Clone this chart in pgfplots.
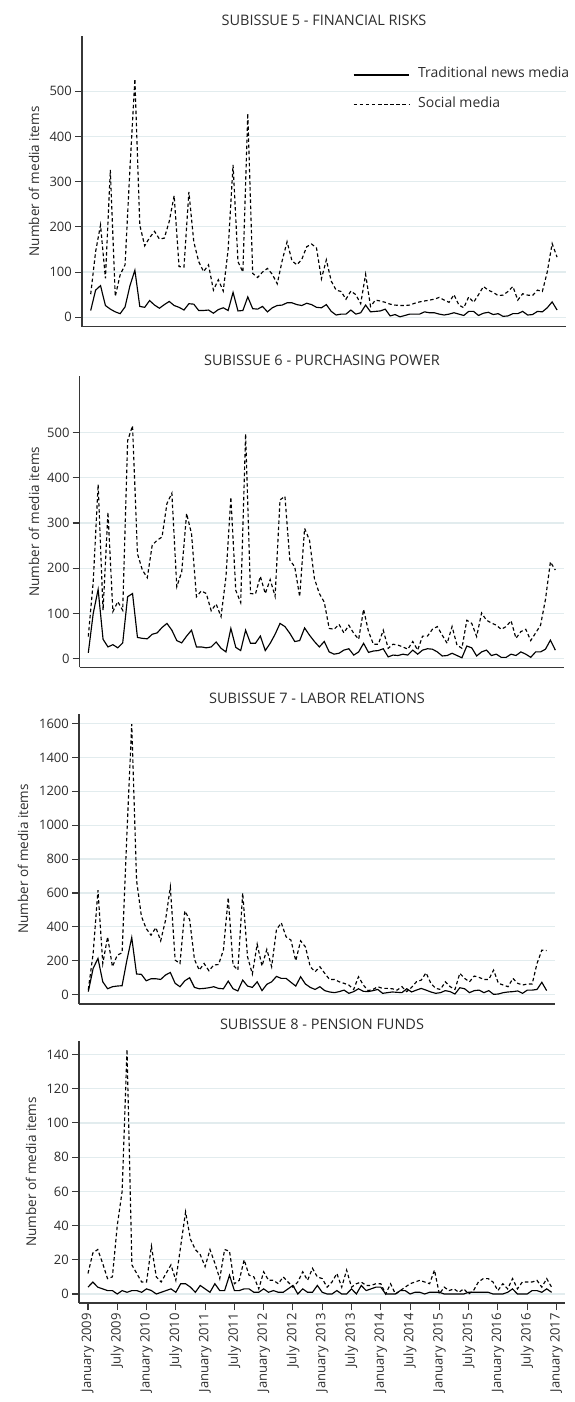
\documentclass[border=0pt]{standalone}
\usepackage{fontspec}
\setmainfont{Open Sans}
\usepackage{pgfplots}
\usepackage{pgfplotstable}
\pgfplotsset{compat=1.18}

\definecolor{gridc}{RGB}{226,236,238}
\definecolor{axc}{RGB}{55,55,55}
\definecolor{txtc}{RGB}{45,45,45}
\newcommand\tickfont{\fontsize{13}{15}\selectfont}
\newcommand\labfont{\fontsize{13.5}{16}\selectfont}
\newcommand\legfont{\fontsize{14}{16}\selectfont}
\newcommand\titfont{\fontsize{14.5}{17}\selectfont}

\pgfplotstableread{
m t s
0 15 51
1 60 145
2 70 204
3 26 86
4 18 326
5 12 46
6 8 94
7 23 116
8 70 330
9 104 527
10 24 204
11 22 158
12 37 176
13 27 190
14 20 173
15 28 175
16 35 212
17 26 269
18 22 112
19 16 111
20 30 277
21 29 167
22 15 123
23 15 101
24 16 116
25 9 60
26 17 83
27 21 58
28 15 150
29 55 337
30 14 123
31 15 100
32 45 451
33 19 97
34 18 88
35 24 100
36 12 108
37 21 95
38 26 74
39 27 125
40 32 167
41 32 125
42 28 116
43 26 128
44 31 156
45 28 162
46 22 153
47 21 85
48 28 127
49 13 80
50 5 60
51 7 57
52 7 40
53 16 58
54 7 50
55 10 30
56 27 95
57 12 24
58 13 38
59 14 36
60 18 33
61 3 29
62 6 27
63 1 26
64 4 26
65 7 27
66 7 31
67 7 34
68 12 36
69 10 38
70 10 40
71 7 44
72 5 38
73 7 33
74 10 50
75 7 27
76 4 21
77 13 45
78 13 33
79 4 50
80 9 68
81 11 60
82 6 55
83 8 48
84 2 49
85 3 57
86 8 68
87 8 38
88 13 52
89 5 49
90 6 48
91 13 60
92 12 57
93 21 100
94 34 163
95 16 133
}\tabA

\pgfplotstableread{
m t s
0 13 49
1 100 170
2 153 385
3 43 107
4 26 324
5 31 104
6 24 126
7 35 107
8 137 482
9 144 515
10 47 232
11 45 196
12 44 179
13 54 251
14 57 262
15 69 269
16 78 343
17 63 366
18 40 159
19 35 192
20 50 321
21 63 276
22 26 137
23 26 150
24 24 144
25 26 106
26 37 121
27 23 93
28 15 180
29 67 357
30 25 151
31 18 124
32 63 497
33 34 144
34 34 143
35 50 182
36 18 144
37 34 175
38 54 138
39 78 351
40 71 359
41 56 218
42 38 203
43 40 137
44 68 288
45 52 262
46 38 177
47 26 144
48 38 125
49 15 67
50 10 65
51 12 76
52 19 57
53 22 74
54 8 56
55 15 43
56 34 109
57 14 60
58 17 32
59 18 32
60 22 63
61 4 23
62 8 32
63 7 30
64 10 26
65 8 21
66 19 38
67 10 19
68 19 50
69 22 50
70 21 65
71 15 71
72 6 52
73 7 34
74 12 71
75 7 30
76 2 23
77 28 85
78 24 78
79 6 49
80 15 101
81 19 85
82 7 79
83 10 74
84 3 65
85 3 71
86 10 84
87 7 45
88 15 60
89 10 65
90 3 40
91 15 57
92 15 74
93 21 131
94 41 214
95 19 196
}\tabB

\pgfplotstableread{
m t s
0 18 30
1 155 243
2 214 616
3 76 184
4 35 341
5 47 165
6 51 233
7 53 247
8 204 950
9 337 1596
10 122 675
11 120 463
12 82 390
13 94 351
14 94 396
15 90 318
16 116 439
17 131 635
18 67 204
19 47 184
20 82 494
21 100 443
22 43 208
23 35 145
24 37 184
25 41 141
26 47 175
27 37 178
28 35 263
29 80 573
30 35 175
31 22 145
32 86 600
33 51 224
34 43 122
35 76 298
36 24 169
37 61 267
38 76 165
39 108 384
40 96 424
41 96 341
42 73 322
43 51 200
44 106 318
45 63 282
46 43 165
47 31 135
48 47 165
49 24 126
50 16 90
51 12 90
52 18 76
53 27 67
54 8 57
55 18 31
56 35 106
57 20 57
58 18 24
59 24 31
60 31 47
61 8 37
62 12 37
63 16 35
64 14 27
65 12 47
66 35 18
67 16 43
68 27 76
69 37 86
70 27 129
71 16 67
72 8 37
73 12 31
74 24 76
75 18 47
76 4 31
77 41 126
78 35 96
79 12 76
80 24 110
81 27 102
82 12 90
83 24 90
84 2 145
85 4 67
86 12 57
87 16 47
88 18 96
89 22 67
90 8 57
91 27 63
92 27 63
93 31 184
94 73 263
95 24 260
}\tabC

\pgfplotstableread{
m t s
0 4 12
1 7 24
2 4 26
3 3 18
4 2 9
5 2 10
6 0 40
7 2 60
8 1 143
9 2 17
10 2 12
11 1 7
12 3 7
13 2 28
14 0 10
15 1 7
16 2 12
17 3 17
18 1 8
19 6 28
20 6 48
21 4 32
22 1 26
23 5 23
24 3 16
25 1 26
26 6 18
27 2 9
28 2 26
29 11 25
30 2 6
31 2 8
32 3 20
33 3 11
34 1 10
35 1 3
36 3 13
37 1 8
38 2 8
39 1 6
40 1 10
41 3 7
42 5 4
43 0 7
44 3 13
45 1 8
46 1 15
47 5 10
48 1 9
49 0 4
50 0 7
51 2 12
52 0 4
53 0 14
54 3 4
55 0 6
56 5 7
57 2 5
58 3 5
59 4 6
60 4 6
61 0 0
62 0 6
63 0 0
64 2 2
65 2 4
66 0 6
67 1 7
68 1 8
69 0 7
70 1 6
71 1 14
72 1 0
73 0 4
74 0 2
75 0 3
76 0 1
77 0 3
78 1 0
79 1 2
80 1 7
81 1 9
82 1 9
83 0 7
84 0 2
85 0 6
86 1 3
87 3 9
88 0 3
89 0 7
90 0 7
91 2 7
92 2 8
93 1 4
94 3 9
95 1 4
}\tabD

\pgfplotsset{
  panel/.style={
    scale only axis,
    anchor=south west,
    axis x line*=bottom,
    axis y line*=left,
    axis line style={axc, line width=1.2pt},
    ymajorgrids,
    grid style={gridc, line width=1.2pt},
    tick align=outside,
    major tick length=7pt,
    tick style={axc, line width=1.1pt},
    yticklabel style={font=\tickfont, text=txtc, inner sep=3pt},
    /pgf/number format/assume math mode=true,
    /pgf/number format/1000 sep={},
    ylabel={Number of media items},
    ylabel style={font=\labfont, text=txtc, at={(axis description cs:0,0.5)}, anchor=center},
    title style={font=\titfont, text=txtc, at={(0.5,1)}, anchor=center},
    xtick=\empty,
    clip=false,
  },
  trad/.style={black, line width=1.15pt},
  soc/.style={black, line width=1.15pt, dash pattern=on 3.5pt off 2.6pt},
}

\begin{document}
\begin{tikzpicture}[x=1pt,y=1pt]
\useasboundingbox (0,0) rectangle (575,1402);

% Panel 1
\begin{axis}[panel,
  at={(82pt,1075.3pt)}, width=484pt, height=290.7pt,
  xmin=-1.772, xmax=96.82, ymin=-20.8, ymax=622,
  ytick={0,100,...,500},
  ylabel style={yshift=48pt},
  title={SUBISSUE 5 - FINANCIAL RISKS},
  title style={yshift=9.5pt},
  legend style={draw=none, fill=none, inner sep=0pt, outer sep=0pt,
    at={(rel axis cs:0.56,1)}, anchor=north west, yshift=-33pt,
    row sep=17.5pt,
    nodes={inner sep=0pt, text height=9pt, text depth=3pt, font=\legfont, text=txtc},
    /tikz/every odd column/.style={column sep=9pt}},
  legend cell align=left,
  legend image code/.code={\draw[#1] (0pt,0pt) -- (55pt,0pt);},
]
\addplot[trad] table[x=m, y=t] {\tabA};
\addlegendentry{Traditional news media}
\addplot[soc] table[x=m, y=s] {\tabA};
\addlegendentry{Social media}
\end{axis}

% Panel 2
\begin{axis}[panel,
  at={(79.7pt,734.7pt)}, width=484.6pt, height=291.3pt,
  xmin=-1.75, xmax=96.83, ymin=-19, ymax=625,
  ytick={0,100,...,500},
  ylabel style={yshift=45.7pt},
  title={SUBISSUE 6 - PURCHASING POWER},
  title style={yshift=10pt},
]
\addplot[trad] table[x=m, y=t] {\tabB};
\addplot[soc] table[x=m, y=s] {\tabB};
\end{axis}

% Panel 3
\begin{axis}[panel,
  at={(79pt,398pt)}, width=476pt, height=290pt,
  xmin=-1.93, xmax=96.73, ymin=-54.9, ymax=1656,
  ytick={0,200,...,1600},
  ylabel style={yshift=56pt},
  title={SUBISSUE 7 - LABOR RELATIONS},
  title style={yshift=10pt},
]
\addplot[trad] table[x=m, y=t] {\tabC};
\addplot[soc] table[x=m, y=s] {\tabC};
\end{axis}

% Panel 4
\begin{axis}[panel,
  at={(79pt,99pt)}, width=486pt, height=262pt,
  xmin=-1.84, xmax=97.75, ymin=-5.26, ymax=147.9,
  ytick={0,20,...,140},
  xtick={0,6,...,96},
  xticklabels={January 2009, July 2009, January 2010, July 2010, January 2011, July 2011, January 2012, July 2012, January 2013, July 2013, January 2014, July 2014, January 2015, July 2015, January 2016, July 2016, January 2017},
  xticklabel style={font=\tickfont, text=txtc, rotate=90, anchor=east, inner sep=3pt},
  ylabel style={yshift=48pt},
  title={SUBISSUE 8 - PENSION FUNDS},
  title style={yshift=11pt},
]
\addplot[trad] table[x=m, y=t] {\tabD};
\addplot[soc] table[x=m, y=s] {\tabD};
\end{axis}
\end{tikzpicture}
\end{document}
